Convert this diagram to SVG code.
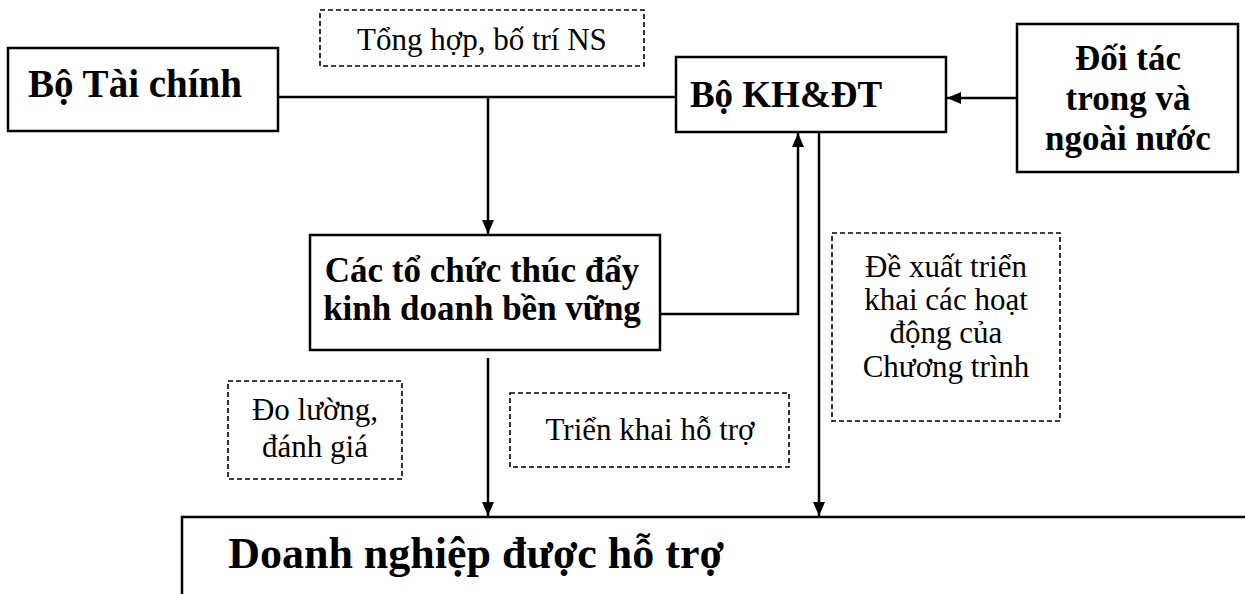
<svg xmlns="http://www.w3.org/2000/svg" width="1245" height="594" viewBox="0 0 1245 594">
<style>
.box{fill:#fff;stroke:#000;stroke-width:2.5}
.dash{fill:#fff;stroke:#000;stroke-width:1.6;stroke-dasharray:5 3}
.b{font-family:"Liberation Serif",serif;font-weight:bold;fill:#000}
.r{font-family:"Liberation Serif",serif;fill:#000}
.c{fill:none;stroke:#000;stroke-width:2.5}
</style>
<defs>
<marker id="ah" markerWidth="14" markerHeight="12" refX="14" refY="6" orient="auto" markerUnits="userSpaceOnUse">
<path d="M0,0 L14,6 L0,12 Z" fill="#000"/>
</marker>
</defs>
<rect width="1245" height="594" fill="#fff"/>
<g id="connectors">
<line class="c" x1="278" y1="97" x2="676" y2="97"/>
<line class="c" x1="488" y1="97" x2="488" y2="234" marker-end="url(#ah)"/>
<line class="c" x1="1017" y1="98" x2="947" y2="98" marker-end="url(#ah)"/>
<polyline class="c" points="658,314 798,314 798,133" marker-end="url(#ah)"/>
<line class="c" x1="819" y1="132" x2="819" y2="516" marker-end="url(#ah)"/>
<line class="c" x1="488" y1="358" x2="488" y2="516" marker-end="url(#ah)"/>
</g>
<g id="n-btc">
<rect class="box" x="8" y="48" width="270" height="83"/>
<text class="b" x="135" y="97" font-size="39" text-anchor="middle">Bộ Tài chính</text>
</g>
<g id="n-tonghop">
<rect class="dash" x="320" y="10" width="324" height="56"/>
<text class="r" x="482" y="50" font-size="31" text-anchor="middle">Tổng hợp, bố trí NS</text>
</g>
<g id="n-khdt">
<rect class="box" x="676" y="57" width="270" height="75"/>
<text class="b" x="786" y="107" font-size="37" text-anchor="middle">Bộ KH&amp;ĐT</text>
</g>
<g id="n-doitac">
<rect class="box" x="1017" y="24" width="221" height="148"/>
<text class="b" font-size="35" text-anchor="middle"><tspan x="1128" y="70">Đối tác</tspan><tspan x="1128" y="110">trong và</tspan><tspan x="1128" y="150">ngoài nước</tspan></text>
</g>
<g id="n-tochuc">
<rect class="box" x="310" y="235" width="350" height="115"/>
<text class="b" font-size="35" text-anchor="middle"><tspan x="482" y="282">Các tổ chức thúc đẩy</tspan><tspan x="482" y="320">kinh doanh bền vững</tspan></text>
</g>
<g id="n-dexuat">
<rect class="dash" x="832" y="233" width="228" height="188"/>
<text class="r" font-size="31" text-anchor="middle"><tspan x="946" y="277">Đề xuất triển</tspan><tspan x="946" y="310">khai các hoạt</tspan><tspan x="946" y="343">động của</tspan><tspan x="946" y="377">Chương trình</tspan></text>
</g>
<g id="n-dolucong">
<rect class="dash" x="228" y="381" width="174" height="98"/>
<text class="r" font-size="31" text-anchor="middle"><tspan x="315" y="420">Đo lường,</tspan><tspan x="315" y="457">đánh giá</tspan></text>
</g>
<g id="n-trienkhai">
<rect class="dash" x="510" y="393" width="279" height="74"/>
<text class="r" x="650" y="440" font-size="31" text-anchor="middle">Triển khai hỗ trợ</text>
</g>
<g id="n-doanhnghiep">
<rect class="box" x="182" y="517" width="1100" height="100"/>
<text class="b" x="476" y="568" font-size="44" text-anchor="middle">Doanh nghiệp được hỗ trợ</text>
</g>
</svg>
